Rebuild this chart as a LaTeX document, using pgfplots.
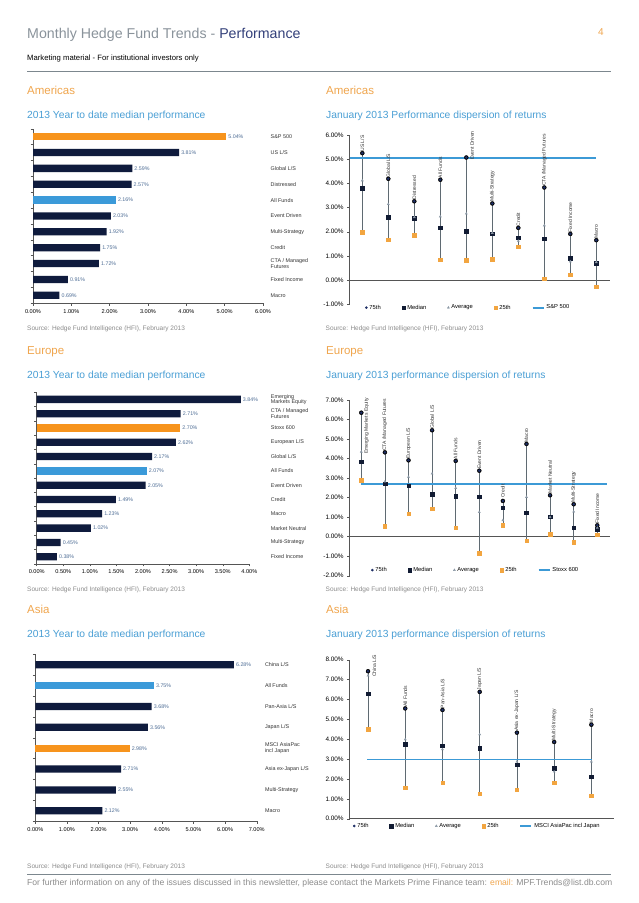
\documentclass[border=0pt]{standalone}
\usepackage{pgfplots}
\pgfplotsset{compat=1.18}
\usepackage{pgfplotstable}
\usepackage{fontspec}
\setmainfont{Liberation Sans}
\newcommand\fs[1]{\fontsize{#1}{#1}\selectfont}

\definecolor{navybar}{HTML}{0F1B3D}
\definecolor{orbar}{HTML}{F7941D}
\definecolor{blbar}{HTML}{3B9AD9}
\definecolor{bench}{HTML}{3C9AD6}
\definecolor{titleg}{HTML}{8A939B}
\definecolor{perf}{HTML}{33407A}
\definecolor{secor}{HTML}{F0A64E}
\definecolor{subbl}{HTML}{4A9FD5}
\definecolor{srcg}{HTML}{8C8C8C}
\definecolor{valc}{HTML}{4F6E96}
\definecolor{axisc}{HTML}{555555}
\definecolor{stemc}{HTML}{5F6A72}
\definecolor{p75c}{HTML}{1E2F66}
\definecolor{medc}{HTML}{111B33}
\definecolor{avgc}{HTML}{8C99A6}
\definecolor{p25c}{HTML}{F2A540}
\definecolor{rulec}{HTML}{7C878E}
\definecolor{labc}{HTML}{333333}

% dispersion tables: lx, ly = where the rotated label starts
\pgfplotstableread{
x lx ly p75 med avg p25 lab
1 1 5.25 5.25 3.81 4.12 1.98 {US L/S}
2 2 4.19 4.19 2.59 3.14 1.68 {Global L/S}
3 3 3.26 3.26 2.57 2.60 1.85 {Distressed}
4 4 4.15 4.15 2.16 2.63 0.85 {All Funds}
5 5.22 4.90 5.07 2.03 2.75 0.83 {Event Driven}
6 6 3.17 3.17 1.92 1.95 0.87 {Multi-Strategy}
7 7 2.16 2.16 1.75 1.62 1.38 {Credit}
8 8 3.83 3.83 1.72 2.26 0.06 {CTA /Managed Futures}
9 9 1.91 1.91 0.91 0.77 0.22 {Fixed Income}
10 10 1.65 1.65 0.69 0.74 -0.26 {Macro}
}\amd

\pgfplotstableread{
x lx ly p75 med avg p25 lab
1 1.22 4.15 6.35 3.84 4.35 2.89 {Emerging Markets Equity}
2 2 4.32 4.32 2.71 2.82 0.53 {CTA /Managed Futures}
3 3 3.91 3.91 2.62 3.06 1.18 {European L/S}
4 4 5.45 5.45 2.17 3.23 1.42 {Global L/S}
5 5 3.88 3.88 2.07 2.49 0.46 {All Funds}
6 6 3.38 3.38 2.05 1.26 -0.85 {Event Driven}
7 7 1.90 1.83 1.49 0.84 0.58 {Credit}
8 8 4.75 4.75 1.23 2.03 -0.20 {Macro}
9 9 2.12 2.12 1.02 1.00 0.12 {Market Neutral}
10 10 1.66 1.66 0.45 1.28 -0.29 {Multi-Strategy}
11 11 0.58 0.58 0.38 0.45 0.10 {Fixed Income}
}\eud

\pgfplotstableread{
x lx ly p75 med avg p25 lab
1 1.17 7.05 7.42 6.28 7.20 4.50 {China L/S}
2 2 5.55 5.55 3.75 3.99 1.56 {All Funds}
3 3 5.47 5.47 3.68 3.49 1.80 {Pan-Asia L/S}
4 4 6.38 6.38 3.56 4.24 1.26 {Japan L/S}
5 5 4.33 4.33 2.71 2.87 1.46 {Asia ex-Japan L/S}
6 6 3.86 3.86 2.55 2.37 1.81 {Multi-Strategy}
7 7 4.73 4.73 2.12 2.87 1.16 {Macro}
}\asd

\pgfplotsset{
  /pgf/number format/assume math mode=true,
  lgmark/.style={legend image code/.code={\draw[##1] plot coordinates {(0pt,0pt)};}},
  lgline/.style={legend image code/.code={\draw[##1] (0pt,0pt) -- (11pt,0pt);}},
  barax/.style={anchor=south west, scale only axis, xbar, bar shift=0pt, bar width=7.3pt,
    axis x line*=bottom, axis y line*=left,
    axis line style={draw=axisc, line width=0.5pt},
    tick align=outside, major tick length=2.5pt, minor tick length=2.5pt,
    tick style={draw=axisc, line width=0.4pt},
    major y tick style={draw=none},
    xmin=0, enlargelimits=false,
    xticklabel={\pgfmathprintnumber[fixed,zerofill,precision=2]{\tick}\%},
    xticklabel style={font=\fs{5.6}, text=black},
    yticklabel style={font=\fs{5.4}, anchor=west, align=left, inner sep=0pt, text=labc},
    point meta=x,
    nodes near coords={\pgfmathprintnumber[fixed,zerofill,precision=2]{\pgfplotspointmeta}\%},
    every node near coord/.append style={font=\fs{5.3}, text=valc, inner sep=2pt},
    clip=false},
  dispax/.style={anchor=south west, scale only axis,
    axis y line*=left, axis x line*=middle,
    axis line style={draw=axisc, line width=0.5pt},
    xtick=\empty, ytick distance=1, tick align=outside, major tick length=2.5pt,
    tick style={draw=axisc, line width=0.4pt},
    hide obscured y ticks=false,
    yticklabel={\pgfmathprintnumber[fixed,zerofill,precision=2]{\tick}\%},
    yticklabel style={font=\fs{6.4}, text=black},
    clip=false,
    legend style={draw=none, fill=none, font=\fs{5.8}, legend columns=-1, inner sep=0pt,
      /tikz/every even column/.append style={column sep=19pt}}},
  stem/.style={forget plot, only marks, mark=none,
    error bars/.cd, y dir=minus, y explicit, error mark=none,
    error bar style={draw=stemc, line width=0.7pt}},
  m75/.style={only marks, mark=*, mark size=1.1pt, color=p75c, lgmark},
  mmed/.style={only marks, mark=square*, mark size=1.8pt, color=medc, lgmark},
  mavg/.style={only marks, mark=triangle*, mark size=1.2pt, color=avgc, lgmark},
  m25/.style={only marks, mark=square*, mark size=1.7pt, color=p25c, lgmark},
  benchl/.style={color=bench, line width=1.8pt, lgline},
  rotlab/.style={forget plot, only marks, mark=none, nodes near coords,
    nodes near coords align=horizontal,
    point meta=explicit symbolic,
    every node near coord/.style={rotate=90, anchor=west, font=\fs{5}, text=labc, inner sep=1.5pt}},
}

\begin{document}
\begin{tikzpicture}[x=1pt, y=-1pt]
\useasboundingbox (0,0) rectangle (638,903);
\fill[white] (0,0) rectangle (638,903);

% header
\node[anchor=base west, inner sep=0pt, font=\fs{14.2}] at (27,38.5)
  {\textcolor{titleg}{Monthly Hedge Fund Trends - }\textcolor{perf}{Performance}};
\node[anchor=base, inner sep=0pt, font=\fs{10}, text=secor] at (601,35.5) {4};
\node[anchor=base west, inner sep=0pt, font=\fs{7.7}] at (27,60) {Marketing material - For institutional investors only};
\draw[rulec, line width=0.8pt] (27,71) -- (611,71);

% section titles
\foreach \xx in {27,326} {
  \node[anchor=base west, inner sep=0pt, font=\fs{11.5}, text=secor] at (\xx,94.8) {Americas};
  \node[anchor=base west, inner sep=0pt, font=\fs{11.5}, text=secor] at (\xx,354.4) {Europe};
  \node[anchor=base west, inner sep=0pt, font=\fs{11.5}, text=secor] at (\xx,613) {Asia};
}
\node[anchor=base west, inner sep=0pt, font=\fs{10.3}, text=subbl] at (27,118) {2013 Year to date median performance};
\node[anchor=base west, inner sep=0pt, font=\fs{10.3}, text=subbl] at (326,118) {January 2013 Performance dispersion of returns};
\node[anchor=base west, inner sep=0pt, font=\fs{10.3}, text=subbl] at (27,378.4) {2013 Year to date median performance};
\node[anchor=base west, inner sep=0pt, font=\fs{10.3}, text=subbl] at (326,378.4) {January 2013 performance dispersion of returns};
\node[anchor=base west, inner sep=0pt, font=\fs{10.3}, text=subbl] at (27,637.4) {2013 Year to date median performance};
\node[anchor=base west, inner sep=0pt, font=\fs{10.3}, text=subbl] at (326,637.4) {January 2013 performance dispersion of returns};

% sources
\foreach \xx/\yy in {27/330.5, 325.5/330, 27/591, 325.5/591, 27/868, 325.5/868}
  \node[anchor=base west, inner sep=0pt, font=\fs{6.5}, text=srcg] at (\xx,\yy) {Source: Hedge Fund Intelligence (HFI), February 2013};

% footer
\draw[rulec, line width=0.8pt] (27,874.3) -- (611,874.3);
\node[anchor=base west, inner sep=0pt, font=\fs{8.6}, text=srcg] at (27,885.5)
  {For further information on any of the issues discussed in this newsletter, please contact the Markets Prime Finance team: \textcolor{secor}{email:} MPF.Trends@list.db.com};

% ---------- Americas bars
\begin{axis}[barax, at={(33pt,-303.2pt)}, width=230pt, height=174.5pt,
  xmax=6, xtick={0,...,6}, ymin=-0.5, ymax=10.5, ytick={0,...,10},
  minor ytick={-0.5,0.5,...,10.5},
  yticklabels={Macro, Fixed Income, {CTA / Managed\\Futures}, Credit, Multi-Strategy, Event Driven, All Funds, Distressed, Global L/S, US L/S, S\&P 500},
  yticklabel style={xshift=240pt}]
\addplot[fill=navybar, draw=none] coordinates {(0.69,0) (0.91,1) (1.72,2) (1.75,3) (1.92,4) (2.03,5) (2.57,7) (2.59,8) (3.81,9)};
\addplot[fill=blbar, draw=none] coordinates {(2.16,6)};
\addplot[fill=orbar, draw=none] coordinates {(5.04,10)};
\end{axis}

% ---------- Europe bars
\begin{axis}[barax, at={(36.7pt,-563.9pt)}, width=212.6pt, height=171.7pt,
  xmax=4, xtick={0,0.5,...,4}, ymin=-0.5, ymax=11.5, ytick={0,...,11},
  minor ytick={-0.5,0.5,...,11.5},
  yticklabels={Fixed Income, Multi-Strategy, Market Neutral, Macro, Credit, Event Driven, All Funds, Global L/S, European L/S, Stoxx 600, {CTA / Managed\\Futures}, {Emerging\\Markets Equity}},
  yticklabel style={xshift=236.5pt}]
\addplot[fill=navybar, draw=none] coordinates {(0.38,0) (0.45,1) (1.02,2) (1.23,3) (1.49,4) (2.05,5) (2.17,7) (2.62,8) (2.71,10) (3.84,11)};
\addplot[fill=blbar, draw=none] coordinates {(2.07,6)};
\addplot[fill=orbar, draw=none] coordinates {(2.70,9)};
\end{axis}

% ---------- Asia bars
\begin{axis}[barax, at={(35.3pt,-821.2pt)}, width=221.4pt, height=166.9pt,
  xmax=7, xtick={0,...,7}, ymin=-0.5, ymax=7.5, ytick={0,...,7},
  minor ytick={-0.5,0.5,...,7.5},
  yticklabels={Macro, Multi-Strategy, Asia ex-Japan L/S, {MSCI AsiaPac\\incl Japan}, Japan L/S, Pan-Asia L/S, All Funds, China L/S},
  yticklabel style={xshift=232pt}]
\addplot[fill=navybar, draw=none] coordinates {(2.12,0) (2.55,1) (2.71,2) (3.56,4) (3.68,5) (6.28,7)};
\addplot[fill=blbar, draw=none] coordinates {(3.75,6)};
\addplot[fill=orbar, draw=none] coordinates {(2.98,3)};
\end{axis}

% ---------- Americas dispersion
\begin{axis}[dispax, at={(349.7pt,-304.3pt)}, width=260.3pt, height=169.3pt,
  xmin=0.515, xmax=10.527, ymin=-1, ymax=6,
  legend style={at={(0.059,-0.02)}, anchor=west}]
\addplot[stem] table[x=x, y=p75, y error minus expr=\thisrow{p75}-\thisrow{p25}] {\amd};
\addplot[m75] table[x=x, y=p75] {\amd};
\addplot[mmed] table[x=x, y=med] {\amd};
\addplot[mavg] table[x=x, y=avg] {\amd};
\addplot[m25] table[x=x, y=p25] {\amd};
\addplot[benchl] coordinates {(0.515,5.04) (10,5.04)};
\addplot[rotlab] table[x=lx, y=ly, meta=lab] {\amd};
\legend{75th, Median, Average, 25th, S\&P 500}
\end{axis}

% ---------- Europe dispersion
\begin{axis}[dispax, at={(349.7pt,-575.7pt)}, width=260.3pt, height=175.7pt,
  xmin=0.508, xmax=11.54, ymin=-2, ymax=7,
  legend style={at={(0.082,0.032)}, anchor=west}]
\addplot[stem] table[x=x, y=p75, y error minus expr=\thisrow{p75}-\thisrow{p25}] {\eud};
\addplot[m75] table[x=x, y=p75] {\eud};
\addplot[mmed] table[x=x, y=med] {\eud};
\addplot[mavg] table[x=x, y=avg] {\eud};
\addplot[m25] table[x=x, y=p25] {\eud};
\addplot[benchl] coordinates {(0.975,2.70) (11.42,2.70)};
\addplot[rotlab] table[x=lx, y=ly, meta=lab] {\eud};
\legend{75th, Median, Average, 25th, Stoxx 600}
\end{axis}

% ---------- Asia dispersion
\begin{axis}[dispax, at={(349.7pt,-818.7pt)}, width=264pt, height=159pt,
  xmin=0.508, xmax=7.6, ymin=0, ymax=8,
  legend style={at={(0.0125,-0.046)}, anchor=west}]
\addplot[stem] table[x=x, y=p75, y error minus expr=\thisrow{p75}-\thisrow{p25}] {\asd};
\addplot[m75] table[x=x, y=p75] {\asd};
\addplot[mmed] table[x=x, y=med] {\asd};
\addplot[mavg] table[x=x, y=avg] {\asd};
\addplot[m25] table[x=x, y=p25] {\asd};
\addplot[benchl] coordinates {(0.98,2.98) (7.02,2.98)};
\addplot[rotlab] table[x=lx, y=ly, meta=lab] {\asd};
\legend{75th, Median, Average, 25th, MSCI AsiaPac incl Japan}
\end{axis}
\end{tikzpicture}
\end{document}
